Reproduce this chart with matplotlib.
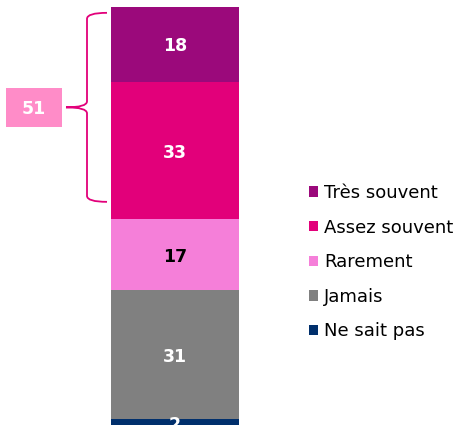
import matplotlib
matplotlib.use('Agg')
import matplotlib.pyplot as plt
from matplotlib.path import Path
from matplotlib.patches import PathPatch, Rectangle, Patch

# data, bottom to top
categories = ['Ne sait pas', 'Jamais', 'Rarement', 'Assez souvent', 'Très souvent']
values = [2, 31, 17, 33, 18]
colors = ['#002F6C', '#808080', '#F57FD9', '#E2007A', '#9B097B']
label_colors = ['white', 'white', 'black', 'white', 'white']
group_cats = ['Assez souvent', 'Très souvent']  # the bracketed total

fig = plt.figure(figsize=(4.56, 4.25), dpi=100)
ax = fig.add_axes([0, 0, 1, 1])

total = sum(values)
px_per_unit = 420 / total
ymax = total + 7 / px_per_unit
ymin = 2.5 / px_per_unit
xmin = -0.5 - 111 / 128
xmax = 0.5 + (456 - 239) / 128
ax.set_xlim(xmin, xmax)
ax.set_ylim(ymin, ymax)
ax.axis('off')

bottom = 0
for cat, v, c, lc in zip(categories, values, colors, label_colors):
    ax.bar(0, v, bottom=bottom, width=1, color=c, label=cat)
    ax.text(0, bottom + v / 2, str(v), ha='center', va='center_baseline', color=lc,
            fontsize=12.5, fontweight='bold')
    bottom += v


# curly brace next to the grouped segments
def px(x):
    return xmin + x / 128


grp_top = total - 1.4
grp_bot = total - sum(values[categories.index(c)] for c in group_cats) + 4.2
mid = (grp_top + grp_bot) / 2
d = 6 / px_per_unit
xl, xr, xt = px(87), px(107), px(66)
verts = [(xr, grp_top), (xl, grp_top), (xl, grp_top - d),
         (xl, mid + d),
         (xl, mid), (xt, mid),
         (xl, mid), (xl, mid - d),
         (xl, grp_bot + d),
         (xl, grp_bot), (xr, grp_bot)]
codes = [Path.MOVETO, Path.CURVE3, Path.CURVE3,
         Path.LINETO,
         Path.CURVE3, Path.CURVE3,
         Path.CURVE3, Path.CURVE3,
         Path.LINETO,
         Path.CURVE3, Path.CURVE3]
ax.add_patch(PathPatch(Path(verts, codes), fill=False, edgecolor='#E2007A', lw=1.3))

# total box
group_total = sum(values[categories.index(c)] for c in group_cats)
ax.add_patch(Rectangle((px(6), mid - 20 / px_per_unit), 56 / 128, 39 / px_per_unit,
                       facecolor='#FF8CC8', edgecolor='none'))
ax.text(px(34), mid, str(group_total), ha='center', va='center_baseline', color='white',
        fontsize=12.5, fontweight='bold')

# legend
handles = [Patch(facecolor=c, edgecolor='none') for c in colors][::-1]
leg = ax.legend(handles, categories[::-1], loc='upper left',
                bbox_to_anchor=(309 / 456, 1 - 184 / 425), frameon=False,
                fontsize=13, handlelength=0.5, handleheight=0.5, handletextpad=0.35,
                labelspacing=0.92, borderpad=0, borderaxespad=0)

fig.savefig('out.png', dpi=100)
